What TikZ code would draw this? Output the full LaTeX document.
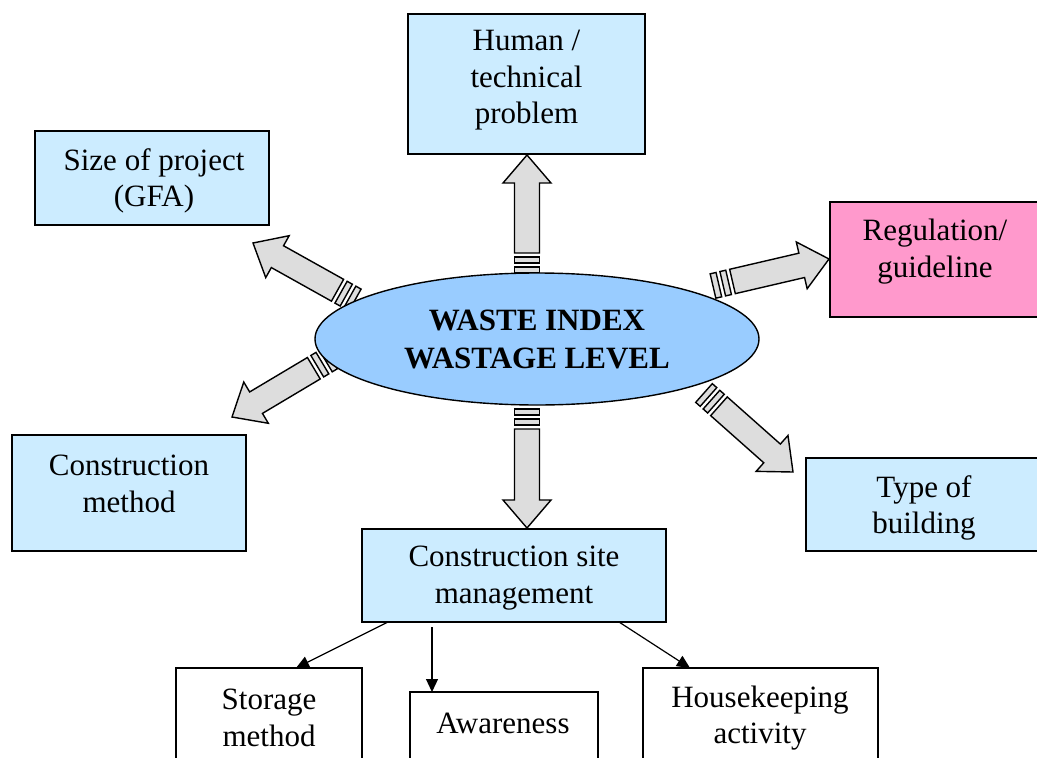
\documentclass[tikz,border=0pt]{standalone}
\usepackage{fontspec}
\setmainfont{Liberation Serif}
\usetikzlibrary{calc,arrows.meta,shapes.geometric}
\definecolor{boxblue}{HTML}{CCECFF}
\definecolor{ellblue}{HTML}{99CCFF}
\definecolor{boxpink}{HTML}{FF99CC}
\definecolor{arrgray}{HTML}{DDDDDD}
\tikzset{
  box/.style={draw=black, line width=1.4pt, fill=boxblue, rectangle, inner sep=0pt},
  wbox/.style={box, fill=white},
  pbox/.style={box, fill=boxpink},
  txt/.style={align=center, inner sep=0pt, font=\fontsize{31}{36.5}\selectfont},
  barr/.style={draw=black, line width=1.4pt, fill=arrgray, line join=miter},
  thin/.style={draw=black, line width=1.2pt, -{Triangle[length=13pt,width=12pt]}},
}
\newcommand\blockarrow[2]{%
  \coordinate (bS) at (#1);
  \coordinate (bT) at (#2);
  \coordinate (r1a) at ($(bS)!0pt!(bT)!12.5pt!90:(bT)$);
  \coordinate (r1b) at ($(bS)!6pt!(bT)!12.5pt!90:(bT)$);
  \coordinate (r1c) at ($(bS)!6pt!(bT)!12.5pt!-90:(bT)$);
  \coordinate (r1d) at ($(bS)!0pt!(bT)!12.5pt!-90:(bT)$);
  \coordinate (r2a) at ($(bS)!10pt!(bT)!12.5pt!90:(bT)$);
  \coordinate (r2b) at ($(bS)!16pt!(bT)!12.5pt!90:(bT)$);
  \coordinate (r2c) at ($(bS)!16pt!(bT)!12.5pt!-90:(bT)$);
  \coordinate (r2d) at ($(bS)!10pt!(bT)!12.5pt!-90:(bT)$);
  \coordinate (s1) at ($(bS)!20pt!(bT)!12.5pt!90:(bT)$);
  \coordinate (s2) at ($(bT)!28pt!(bS)!12.5pt!-90:(bS)$);
  \coordinate (h1) at ($(bT)!28pt!(bS)!24pt!-90:(bS)$);
  \coordinate (h2) at ($(bT)!28pt!(bS)!24pt!90:(bS)$);
  \coordinate (s3) at ($(bT)!28pt!(bS)!12.5pt!90:(bS)$);
  \coordinate (s4) at ($(bS)!20pt!(bT)!12.5pt!-90:(bT)$);
  \draw[barr] (r1a) -- (r1b) -- (r1c) -- (r1d) -- cycle;
  \draw[barr] (r2a) -- (r2b) -- (r2c) -- (r2d) -- cycle;
  \draw[barr] (s1) -- (s2) -- (h1) -- (bT) -- (h2) -- (s3) -- (s4) -- cycle;
}
\begin{document}
\begin{tikzpicture}[x=1pt, y=1pt]
\useasboundingbox (0,0) rectangle (1037,-758);
\clip (0,0) rectangle (1037,-758);

% block arrows (start on ellipse side, tip at box)
\coordinate (uS) at (527,-273);  \coordinate (uT) at (527,-155);
\coordinate (dS) at (527,-409);  \coordinate (dT) at (527,-528);
\coordinate (gS) at (355,-300);  \coordinate (gT) at (253,-243);
\coordinate (rS) at (713,-286);  \coordinate (rT) at (829,-259);
\coordinate (mS) at (331,-358);  \coordinate (mT) at (232,-417);
\coordinate (tS) at (704,-393);  \coordinate (tT) at (793,-472);
\blockarrow{uS}{uT}
\blockarrow{dS}{dT}
\blockarrow{gS}{gT}
\blockarrow{rS}{rT}
\blockarrow{mS}{mT}
\blockarrow{tS}{tT}

% central ellipse
\node[ellipse, draw=black, line width=1.4pt, fill=ellblue, minimum width=444pt,
      minimum height=132pt, inner sep=0pt, align=center,
      font=\fontsize{31}{38}\selectfont\bfseries] (ell) at (537,-339)
      {WASTE INDEX\\WASTAGE LEVEL};

% boxes
\node[box, minimum width=237pt, minimum height=140pt] (hum) at (526.5,-84) {};
\node[txt] (thum) at (526.5,-80.5) {Human /\\technical\\problem};

\node[box, minimum width=234pt, minimum height=94pt] (size) at (152,-178) {};
\node[txt] (tsize) at (154,-181) {Size of project\\(GFA)};

\node[pbox, minimum width=210pt, minimum height=115pt] (reg) at (935,-259.5) {};
\node[txt] (treg) at (935,-251.6) {Regulation/\\guideline};

\node[box, minimum width=234pt, minimum height=116pt] (cm) at (129,-493) {};
\node[txt] (tcm) at (129,-484) {Construction\\method};

\node[box, minimum width=236pt, minimum height=93pt] (tob) at (924,-504.5) {};
\node[txt] (ttob) at (924,-508) {Type of\\building};

\node[box, minimum width=304pt, minimum height=93pt] (csm) at (514,-575.5) {};
\node[txt] (tcsm) at (514,-578) {Construction site\\management};

\node[wbox, minimum width=186pt, minimum height=122pt] (sto) at (269,-729) {};
\node[txt] (tsto) at (269,-718) {Storage\\method};

\node[wbox, minimum width=188pt, minimum height=108pt] (awa) at (504,-746) {};
\node[txt] (tawa) at (503,-723.6) {Awareness};

\node[wbox, minimum width=235pt, minimum height=122pt] (hk) at (760.5,-729) {};
\node[txt] (thk) at (760,-718) {Housekeeping\\activity};

% thin arrows
\coordinate (a1s) at (388,-622); \coordinate (a1e) at (296,-668);
\coordinate (a2s) at (432,-627); \coordinate (a2e) at (432,-692);
\coordinate (a3s) at (619,-622); \coordinate (a3e) at (690,-668);
\draw[thin] (a1s) -- (a1e);
\draw[thin] (a2s) -- (a2e);
\draw[thin] (a3s) -- (a3e);
\end{tikzpicture}
\end{document}
